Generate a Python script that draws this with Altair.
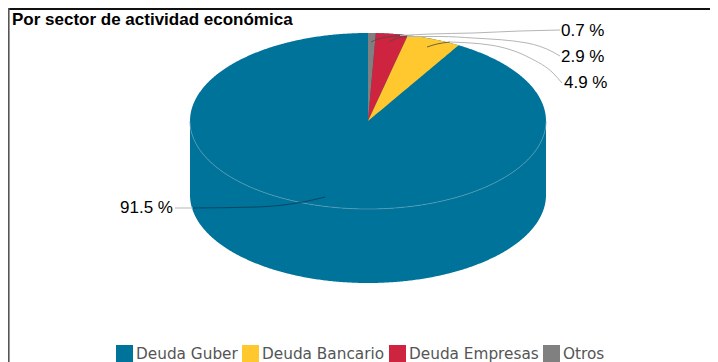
import numpy as np
import pandas as pd
import altair as alt

categories = ["Deuda Guber", "Deuda Bancario", "Deuda Empresas", "Otros"]
shares = [91.5, 4.9, 2.9, 0.7]
labels = ["91.5 %", "4.9 %", "2.9 %", "0.7 %"]
colors = ["#00739b", "#ffc82e", "#cf2440", "#808080"]
title_text = "Por sector de actividad económica"

W, H = 702, 354
OX, OY = 8, 8
CX, CY, RX, RY, DEPTH = 368, 121, 178, 88, 74

def rim(t):
    return CX + RX * np.sin(t), CY - RY * np.cos(t)

def t_of(p):
    return 2 * np.pi * p / 100

x_scale = alt.Scale(domain=[OX, OX + W], range=[0, W], nice=False, zero=False)
y_scale = alt.Scale(domain=[OY, OY + H], range=[0, H], nice=False, zero=False)
X = alt.X("x:Q", scale=x_scale, axis=None)
Y = alt.Y("y:Q", scale=y_scale, axis=None)
Y2 = alt.Y2("y2:Q")

xs = CX + RX * np.cos(np.linspace(np.pi, 0, 361))
half = RY * np.sqrt(np.clip(1 - ((xs - CX) / RX) ** 2, 0, 1))
wall = pd.DataFrame({"x": xs, "y": CY + half, "y2": CY + half + DEPTH})
top = pd.DataFrame({"x": xs, "y": CY - half, "y2": CY + half, "name": categories[0]})
front_rim = pd.DataFrame({"x": xs, "y": CY + half})

color = alt.Color(
    "name:N",
    scale=alt.Scale(domain=categories, range=colors),
    sort=categories,
    legend=alt.Legend(
        title=None, orient="none", legendX=108, legendY=337, direction="horizontal",
        columns=4, symbolType="square", symbolSize=289, symbolStrokeWidth=0,
        symbolOpacity=1, labelFont="DejaVu Sans", labelFontSize=15.3, labelColor="#555555",
        labelOffset=3, columnPadding=4, symbolOffset=0,
    ),
)

# small sectors, clockwise from 12 o'clock
order = [(categories[3], shares[3]), (categories[2], shares[2]), (categories[1], shares[1])]
rows = []
cum = 0.0
for name, v in order:
    a0, a1 = t_of(cum), t_of(cum + v)
    x0, y0 = rim(a0)
    x1, y1 = rim(a1)
    for t in np.linspace(a0, a1, 40):
        xr, yr = rim(t)
        rows.append({"name": name, "x": xr, "y": yr, "y2": CY + (y1 - CY) * (xr - CX) / (x1 - CX)})
    if x0 > CX:
        for xv in np.linspace(CX, x0, 10):
            rows.append({"name": name, "x": xv, "y": CY + (y0 - CY) * (xv - CX) / (x0 - CX),
                         "y2": CY + (y1 - CY) * (xv - CX) / (x1 - CX)})
    cum += v
sectors = pd.DataFrame(rows).sort_values("x")

layers = [
    alt.Chart(wall).mark_area(color=colors[0], opacity=1).encode(x=X, y=Y, y2=Y2),
    alt.Chart(top).mark_area(opacity=1).encode(x=X, y=Y, y2=Y2, color=color),
    alt.Chart(sectors).mark_area(opacity=1).encode(x=X, y=Y, y2=Y2, color=color, detail="name:N"),
    alt.Chart(front_rim).mark_line(color="#5f9cb5", strokeWidth=0.7).encode(x=X, y=Y),
]

def path(pts):
    return pd.DataFrame({"x": [p[0] for p in pts], "y": [p[1] for p in pts], "o": range(len(pts))})

# label, inner (dark) part, outer (grey) part, label position
leaders = [
    ("0.7 %", [(371, 42), (378, 39), (388, 37), (400, 35.5)],
     [(400, 35.5), (430, 34), (473, 33), (520, 31), (560, 30)], 561, 31, "left"),
    ("2.9 %", [(389, 42), (396, 38.5), (407, 36.5)],
     [(407, 36.5), (440, 36.5), (473, 38), (527, 43), (553, 52), (560, 56)], 561, 57, "left"),
    ("4.9 %", [(427, 47), (437, 44), (450, 42)],
     [(450, 42), (490, 45), (530, 58), (553, 73), (562, 83)], 564, 83, "left"),
    ("91.5 %", [(325, 197), (303, 202), (257, 207), (193, 208)],
     [(193, 208), (175, 208)], 173, 208, "right"),
]
for lab, dark, grey, tx, ty, al in leaders:
    layers.append(alt.Chart(path(grey)).mark_line(color="#b5b5b5", strokeWidth=1, interpolate="monotone").encode(x=X, y=Y, order="o:Q"))
    dark_color = "#0b3a52" if lab == "91.5 %" else "#4a4a4a"
    layers.append(alt.Chart(path(dark)).mark_line(color=dark_color, strokeWidth=0.8, interpolate="monotone").encode(x=X, y=Y, order="o:Q"))
    layers.append(
        alt.Chart(pd.DataFrame({"x": [tx], "y": [ty], "t": [lab]}))
        .mark_text(font="Liberation Sans", fontSize=17, color="#000000", align=al, baseline="middle")
        .encode(x=X, y=Y, text="t:N")
    )

# frame: top and left lines only
top_line = alt.Chart(pd.DataFrame({"x": [OX], "x2": [OX + W], "y": [9]})).mark_rule(
    color="#111111", strokeWidth=2).encode(x=X, x2="x2:Q", y=Y)
left_line = alt.Chart(pd.DataFrame({"x": [8.6], "y": [OY], "y2": [OY + H]})).mark_rule(
    color="#555555", strokeWidth=2).encode(x=X, y=Y, y2=Y2)
title = alt.Chart(pd.DataFrame({"x": [12], "y": [20], "t": [title_text]})).mark_text(
    font="Liberation Sans", fontSize=17, fontWeight="bold", color="#000000", align="left", baseline="middle"
).encode(x=X, y=Y, text="t:N")
layers += [top_line, left_line, title]

chart = alt.layer(*layers).resolve_scale(color="shared").properties(
    width=W, height=H, padding=0, autosize=alt.AutoSizeParams(type="none")
).configure_view(stroke=None)

chart.save("out.html", embed_options={"renderer": "svg", "actions": False})
